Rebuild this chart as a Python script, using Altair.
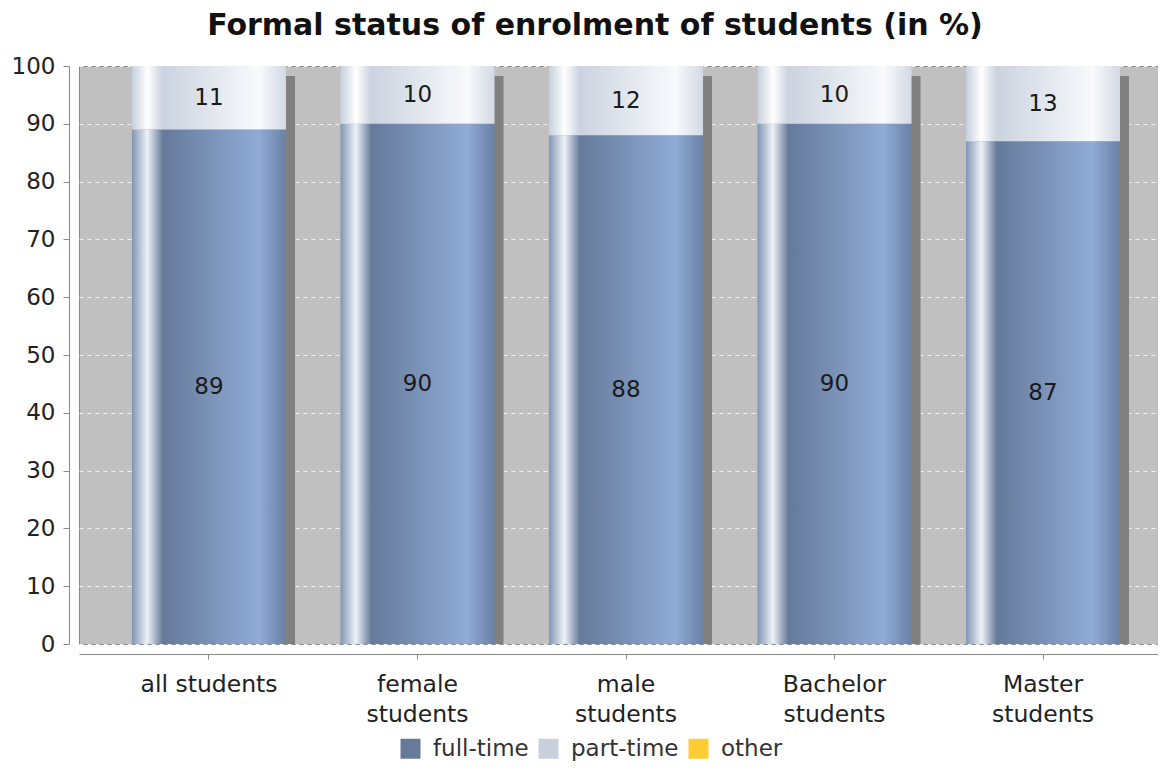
import altair as alt
import pandas as pd

categories = ["all students", "female students", "male students", "Bachelor students", "Master students"]
full_time = [89, 90, 88, 90, 87]
part_time = [11, 10, 12, 10, 13]
other = [0, 0, 0, 0, 0]
series = ["full-time", "part-time", "other"]
series_colors = ["#667a99", "#c8d0dc", "#ffcc33"]
y_ticks = [0, 10, 20, 30, 40, 50, 60, 70, 80, 90, 100]

df = pd.DataFrame({
    "category": categories,
    "full": full_time,
    "part": part_time,
    "other": other,
})
df["total"] = df["full"] + df["part"] + df["other"]
df["top"] = df["full"] + df["part"]
df["full_mid"] = df["full"] / 2
df["part_mid"] = df["full"] + df["part"] / 2

legend_df = pd.DataFrame({"series": series, "category": [categories[0]] * 3, "zero": [0, 0, 0]})

FONT = "DejaVu Sans"

x_enc = alt.X(
    "category:N",
    sort=categories,
    title=None,
    scale=alt.Scale(paddingInner=0.261, paddingOuter=0.254, range=[0, 1094]),
    axis=alt.Axis(
        labelExpr="datum.label == 'all students' ? datum.label : split(datum.label, ' ')",
        labelAngle=0,
        labelBaseline="top",
        labelFontSize=23.5,
        labelLineHeight=30,
        labelColor="#222222",
        labelFont=FONT,
        labelPadding=13,
        offset=10,
        domainColor="#888888",
        tickColor="#888888",
        tickSize=5,
        grid=False,
    ),
)

y_scale = alt.Scale(domain=[0, 100], nice=False)
y_axis = alt.Axis(
    values=y_ticks,
    title=None,
    offset=10,
    labelFontSize=23,
    labelFont=FONT,
    labelColor="#222222",
    labelPadding=8,
    domainColor="#888888",
    tickColor="#888888",
    tickSize=6,
    grid=True,
    gridColor="#f2f2f2",
    gridDash=[4, 4],
    gridWidth=1,
)

full_grad = alt.LinearGradient(
    gradient="linear", x1=0, x2=1, y1=0, y2=0,
    stops=[
        alt.GradientStop(color="#8195b3", offset=0),
        alt.GradientStop(color="#eef2f7", offset=0.1),
        alt.GradientStop(color="#667a9a", offset=0.2),
        alt.GradientStop(color="#8fabd6", offset=0.82),
        alt.GradientStop(color="#6b81a5", offset=1),
    ],
)
part_grad = alt.LinearGradient(
    gradient="linear", x1=0, x2=1, y1=0, y2=0,
    stops=[
        alt.GradientStop(color="#c6cfdc", offset=0),
        alt.GradientStop(color="#ffffff", offset=0.1),
        alt.GradientStop(color="#cbd3df", offset=0.2),
        alt.GradientStop(color="#f8fafc", offset=0.82),
        alt.GradientStop(color="#d3d9e4", offset=1),
    ],
)

base = alt.Chart(df)

shadow = base.mark_bar(fill="#808080", xOffset=9, yOffset=10, clip=True).encode(
    x=x_enc,
    y=alt.Y("total:Q", scale=y_scale, axis=y_axis),
    y2=alt.datum(0),
)

full_bar = base.mark_bar(fill=full_grad).encode(
    x=alt.X("category:N", sort=categories),
    y=alt.Y("full:Q", scale=y_scale),
    y2=alt.datum(0),
)

part_bar = base.mark_bar(fill=part_grad).encode(
    x=alt.X("category:N", sort=categories),
    y=alt.Y("full:Q", scale=y_scale),
    y2="top:Q",
)

full_text = base.mark_text(font=FONT, fontSize=23, color="#1a1a1a").encode(
    x=alt.X("category:N", sort=categories),
    y=alt.Y("full_mid:Q", scale=y_scale),
    text="full:Q",
)

part_text = base.mark_text(font=FONT, fontSize=23, color="#1a1a1a").encode(
    x=alt.X("category:N", sort=categories),
    y=alt.Y("part_mid:Q", scale=y_scale),
    text="part:Q",
)

legend_layer = alt.Chart(legend_df).mark_bar().encode(
    x=alt.X("category:N", sort=categories),
    y=alt.Y("zero:Q", scale=y_scale, stack=None),
    y2=alt.datum(0),
    color=alt.Color(
        "series:N",
        scale=alt.Scale(domain=series, range=series_colors),
        sort=series,
        legend=alt.Legend(
            title=None,
            orient="none",
            direction="horizontal",
            legendX=320,
            legendY=671,
            symbolType="square",
            symbolSize=400,
            symbolStrokeWidth=0,
            labelFontSize=23,
            labelFont=FONT,
            labelColor="#333333",
            columnPadding=8,
            labelOffset=11,
        ),
    ),
)

chart = alt.layer(shadow, full_bar, part_bar, full_text, part_text, legend_layer).properties(
    width=1079,
    height=578,
    autosize=alt.AutoSizeParams(type="none"),
    padding={"left": 71, "top": 58, "right": 0, "bottom": 120},
    title=alt.TitleParams(
        "Formal status of enrolment of students (in %)",
        font=FONT,
        fontSize=30,
        fontWeight="bold",
        color="#111111",
        anchor="middle",
        dx=-23.5,
        offset=14,
    ),
).configure_view(
    fill="#c0c0c0",
    stroke="#888888",
    strokeWidth=1,
)

chart.save("out.html", embed_options={"renderer": "svg", "actions": False})
